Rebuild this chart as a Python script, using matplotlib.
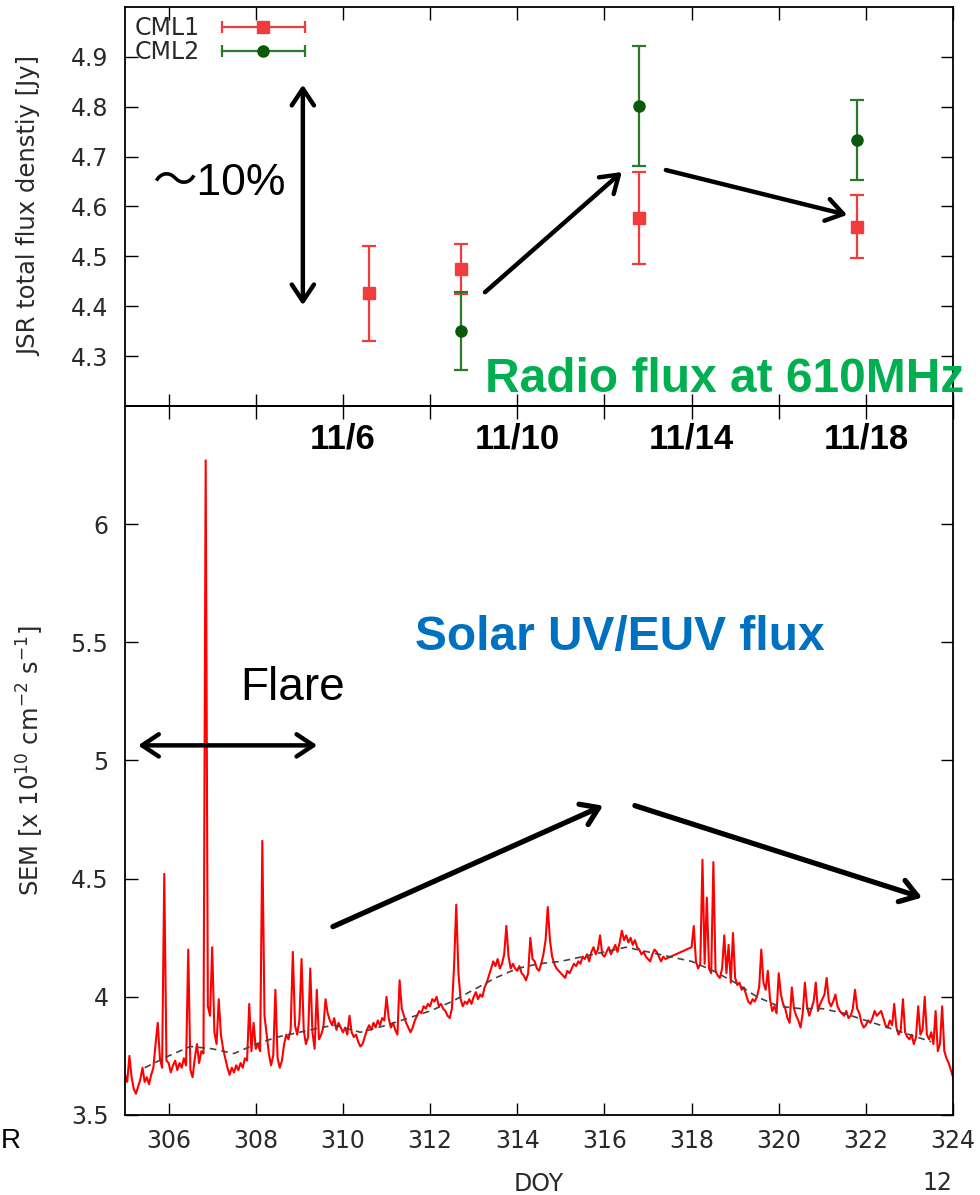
import matplotlib
matplotlib.use("Agg")
import numpy as np
import matplotlib.pyplot as plt
from matplotlib.lines import Line2D
from matplotlib.legend_handler import HandlerLine2D

plt.rcParams["font.family"] = ["DejaVu Sans"]
plt.rcParams["mathtext.fontset"] = "dejavusans"

# ---- radio flux (top panel) ----
cml1_doy = [310.6, 312.7, 316.8, 321.8]
cml1_flux = [4.426, 4.474, 4.577, 4.559]
cml1_err = [0.095, 0.050, 0.093, 0.063]

cml2_doy = [312.7, 316.8, 321.8]
cml2_flux = [4.350, 4.802, 4.733]
cml2_err = [0.078, 0.120, 0.080]

top_ticks = [306, 308, 310, 312, 314, 316, 318, 320, 322, 324]
top_tick_labels = ["", "", "11/6", "", "11/10", "", "11/14", "", "11/18", ""]
top_yticks = [4.3, 4.4, 4.5, 4.6, 4.7, 4.8, 4.9]

# ---- SEM flux (bottom panel), sampled every 0.05 day ----
# segment 1: DOY 305.00 - 317.40
sem_flux1 = [
    3.67, 3.64, 3.75, 3.66, 3.61, 3.59, 3.62, 3.65, 3.70, 3.64, 3.66, 3.63, 3.67, 3.70, 3.80, 3.89, 3.74, 3.70, 4.52, 3.73,  # 305
    3.72, 3.68, 3.71, 3.73, 3.69, 3.72, 3.70, 3.74, 3.71, 4.20, 3.69, 3.66, 3.74, 3.80, 3.72, 3.77, 3.76, 6.27, 3.96, 3.92,  # 306
    4.21, 3.85, 3.80, 3.99, 3.84, 3.78, 3.74, 3.70, 3.67, 3.70, 3.68, 3.71, 3.69, 3.72, 3.70, 3.74, 3.73, 3.97, 3.77, 3.89,  # 307
    3.78, 3.80, 3.77, 4.66, 3.92, 3.84, 3.76, 3.71, 3.75, 4.03, 3.74, 3.70, 3.73, 3.80, 3.84, 3.82, 3.86, 4.19, 3.88, 3.84,  # 308
    3.90, 4.16, 3.86, 3.80, 3.83, 4.12, 3.85, 3.78, 4.03, 3.82, 3.84, 3.87, 3.99, 3.93, 3.90, 3.88, 3.91, 3.86, 3.89, 3.87,  # 309
    3.85, 3.87, 3.84, 3.92, 3.85, 3.83, 3.84, 3.81, 3.79, 3.80, 3.83, 3.86, 3.88, 3.86, 3.89, 3.87, 3.90, 3.88, 3.91, 3.90,  # 310
    4.00, 3.91, 3.87, 3.89, 3.86, 3.84, 4.07, 3.95, 3.92, 3.89, 3.87, 3.85, 3.87, 3.90, 3.92, 3.94, 3.93, 3.96, 3.95, 3.97,  # 311
    3.96, 3.99, 3.98, 4.00, 3.96, 3.97, 3.95, 3.94, 3.92, 3.91, 3.95, 4.13, 4.39, 4.10, 3.99, 3.96, 3.98, 3.97, 3.99, 3.97,  # 312
    4.00, 4.02, 3.99, 4.01, 4.00, 4.04, 4.06, 4.09, 4.12, 4.15, 4.13, 4.16, 4.12, 4.14, 4.18, 4.30, 4.17, 4.12, 4.14, 4.12,  # 313
    4.11, 4.13, 4.10, 4.09, 4.07, 4.10, 4.25, 4.16, 4.15, 4.12, 4.11, 4.14, 4.18, 4.24, 4.38, 4.24, 4.17, 4.14, 4.12, 4.11,  # 314
    4.10, 4.09, 4.08, 4.11, 4.10, 4.12, 4.14, 4.13, 4.15, 4.14, 4.17, 4.16, 4.18, 4.15, 4.19, 4.21, 4.18, 4.20, 4.26, 4.18,  # 315
    4.17, 4.19, 4.21, 4.18, 4.20, 4.22, 4.19, 4.23, 4.28, 4.24, 4.26, 4.23, 4.25, 4.22, 4.24, 4.21, 4.20, 4.18, 4.19, 4.17,  # 316
    4.16, 4.15, 4.18, 4.20, 4.19, 4.17, 4.15, 4.17, 4.16,  # 317
]
# segment 2: DOY 318.00 - 324.00
sem_flux2 = [
    4.21, 4.30, 4.15, 4.12, 4.14, 4.58, 4.14, 4.42, 4.12, 4.10, 4.57, 4.11, 4.09, 4.08, 4.12, 4.26, 4.10, 4.22, 4.06, 4.27,  # 318
    4.08, 4.05, 4.06, 4.03, 4.04, 4.01, 3.98, 3.97, 3.99, 3.98, 4.00, 4.04, 4.20, 4.06, 4.03, 4.11, 3.99, 3.94, 3.96, 3.93,  # 319
    4.10, 4.01, 3.97, 3.95, 3.91, 3.89, 4.04, 3.95, 3.92, 3.90, 3.87, 3.93, 4.06, 3.96, 3.92, 3.95, 3.98, 4.06, 3.94, 3.97,  # 320
    3.99, 4.01, 4.08, 3.98, 3.96, 3.98, 4.01, 3.96, 3.94, 3.93, 3.92, 3.94, 3.91, 3.92, 3.95, 4.03, 3.95, 3.93, 3.89, 3.87,  # 321
    3.88, 3.90, 3.89, 3.91, 3.94, 3.92, 3.93, 3.94, 3.91, 3.88, 3.87, 3.90, 3.88, 3.97, 3.87, 3.84, 3.86, 3.99, 3.85, 3.83,  # 322
    3.82, 3.84, 3.80, 3.83, 3.96, 3.84, 3.86, 4.00, 3.84, 3.82, 3.85, 3.80, 3.94, 3.77, 3.80, 3.96, 3.77, 3.74, 3.72, 3.69,  # 323
    3.66,
]
seg1_start, seg2_start, step = 305.0, 318.0, 0.05

# smoothed trend (dashed)
trend_doy = [305.45, 306.0, 306.5, 307.0, 307.5, 308.0, 308.5, 309.0, 309.5, 309.8,
             310.4, 311.0, 311.5, 312.0, 312.5, 313.0, 313.5, 314.0, 314.5, 315.0,
             315.5, 316.0, 316.5, 317.0, 317.5, 318.0, 318.5, 319.0, 319.5, 320.0,
             320.5, 321.0, 321.5, 322.0, 322.5, 323.0, 323.5]
trend_flux = [3.70, 3.75, 3.79, 3.78, 3.76, 3.80, 3.83, 3.85, 3.87, 3.88,
              3.85, 3.88, 3.91, 3.94, 3.98, 4.03, 4.08, 4.12, 4.14, 4.15,
              4.17, 4.19, 4.21, 4.19, 4.17, 4.15, 4.11, 4.06, 4.00, 3.96,
              3.95, 3.95, 3.93, 3.90, 3.87, 3.84, 3.81]

bottom_ticks = [306, 308, 310, 312, 314, 316, 318, 320, 322, 324]
bottom_yticks = [3.5, 4.0, 4.5, 5.0, 5.5, 6.0]
bottom_ytick_labels = ["3.5", "4", "4.5", "5", "5.5", "6"]

doy1 = seg1_start + step * np.arange(len(sem_flux1))
doy2 = seg2_start + step * np.arange(len(sem_flux2))
sem_doy = np.concatenate([doy1, doy2])
sem_flux = np.concatenate([sem_flux1, sem_flux2])

RED = "#f03c3c"
GREEN = "#2a7a2a"
GREEN_DK = "#0b5a0b"
TICK_COL = "#2a2a2a"
SLIDE = ["Liberation Sans", "Noto Sans CJK JP"]  # overlay text font

fig = plt.figure(figsize=(9.8, 11.95), dpi=100)
ax1 = fig.add_axes([0.1276, 0.6603, 0.8449, 0.3339])
ax2 = fig.add_axes([0.1276, 0.06695, 0.8449, 0.5933])
ax1.set_zorder(2)
ax1.patch.set_alpha(0)

for ax in (ax1, ax2):
    for sp in ax.spines.values():
        sp.set_linewidth(1.3)
    ax.tick_params(direction="in", length=9, width=1.0, top=True, right=True,
                   labelsize=17, labelcolor=TICK_COL)
    ax.tick_params(axis="y", pad=12)
    ax.set_xlim(305, 324)

# ---- top panel ----
ax1.errorbar(cml1_doy, cml1_flux, yerr=cml1_err, fmt="s", color=RED, ms=8,
             elinewidth=1.6, capsize=4.7, capthick=1.6, zorder=3)
ax1.errorbar(cml2_doy, cml2_flux, yerr=cml2_err, fmt="o", color=GREEN, mfc=GREEN_DK,
             mec=GREEN_DK, ms=8, elinewidth=1.6, capsize=4.7, capthick=1.6, zorder=3)
ax1.set_ylim(4.2, 5.0)
ax1.set_yticks(top_yticks)
ax1.set_yticklabels([f"{v:.1f}" for v in top_yticks])
ax1.set_xticks(top_ticks)
ax1.set_xticklabels(top_tick_labels, fontsize=25, fontweight="bold", color="black",
                    family=SLIDE)
ax1.tick_params(axis="x", pad=12)
ax1.set_ylabel("JSR total flux denstiy [Jy]", fontsize=17.5, color=TICK_COL)
ax1.yaxis.set_label_coords(-0.101, 0.5)

# legend in gnuplot style: text first, then a horizontal bar with caps
caps1 = Line2D([], [], color=RED, lw=1.6, marker="|", ms=9, mew=1.6)
mk1 = Line2D([], [], color=RED, marker="s", ms=8, ls="none")
caps2 = Line2D([], [], color=GREEN, lw=1.6, marker="|", ms=9, mew=1.6)
mk2 = Line2D([], [], color=GREEN_DK, marker="o", ms=8, ls="none")
hmap = {caps1: HandlerLine2D(marker_pad=0, numpoints=2),
        caps2: HandlerLine2D(marker_pad=0, numpoints=2),
        mk1: HandlerLine2D(numpoints=1),
        mk2: HandlerLine2D(numpoints=1)}
ax1.legend([(caps1, mk1), (caps2, mk2)], ["CML1", "CML2"], handler_map=hmap,
           loc="upper left", bbox_to_anchor=(0, 1), borderaxespad=0, borderpad=0.4,
           frameon=False, markerfirst=False, handlelength=3.5, handletextpad=0.95,
           labelspacing=0.0, fontsize=17, labelcolor=TICK_COL)

arrow_top = dict(arrowstyle="->,head_length=0.6,head_width=0.4", lw=3.2, color="black",
                 shrinkA=0, shrinkB=0, mutation_scale=20)
ax1.annotate("", xy=(309.08, 4.844), xytext=(309.08, 4.402),
             arrowprops=dict(arrow_top, arrowstyle="<->,head_length=0.6,head_width=0.4"))
ax1.annotate("", xy=(316.40, 4.669), xytext=(313.26, 4.428), arrowprops=arrow_top)
ax1.annotate("", xy=(321.57, 4.583), xytext=(317.41, 4.673), arrowprops=arrow_top)
ax1.text(305.62, 4.623, "\uff5e10%", fontsize=32, va="baseline", family=SLIDE)

# ---- bottom panel ----
ax2.plot(sem_doy, sem_flux, color="#ff0000", lw=1.5, zorder=2)
ax2.plot(trend_doy, trend_flux, color="#444444", lw=1.2, ls=(0, (4, 3)), zorder=3)
ax2.set_ylim(3.5, 6.5)
ax2.set_yticks(bottom_yticks)
ax2.set_yticklabels(bottom_ytick_labels)
ax2.set_xticks(bottom_ticks)
ax2.set_xticklabels([str(t) for t in bottom_ticks])
ax2.tick_params(axis="x", pad=10)
ax2.set_xlabel("DOY", fontsize=17, color=TICK_COL, labelpad=14)
ax2.set_ylabel("SEM [x 10$^{10}$ cm$^{-2}$ s$^{-1}$]", fontsize=17.5, color=TICK_COL)
ax2.yaxis.set_label_coords(-0.096, 0.5)

arrow_bot = dict(arrowstyle="->,head_length=0.6,head_width=0.4", lw=3.8, color="black",
                 shrinkA=0, shrinkB=0, mutation_scale=20)
ax2.annotate("", xy=(309.41, 5.064), xytext=(305.30, 5.064),
             arrowprops=dict(arrow_bot, lw=3.2, arrowstyle="<->,head_length=0.6,head_width=0.4"))
ax2.annotate("", xy=(315.97, 4.809), xytext=(309.77, 4.297), arrowprops=arrow_bot)
ax2.annotate("", xy=(323.29, 4.420), xytext=(316.70, 4.809), arrowprops=arrow_bot)
ax2.text(307.64, 5.254, "Flare", fontsize=33, va="baseline", family=SLIDE)
ax2.text(311.65, 5.466, "Solar UV/EUV flux", fontsize=34.5, fontweight="bold",
         color="#0070c0", va="baseline", family=SLIDE)

fig.text(0.4949, 0.6720, "Radio flux at 610MHz", fontsize=34.5, fontweight="bold",
         color="#00b050", va="baseline", family=SLIDE)
fig.text(937 / 980, 1 - 1183 / 1195, "12", fontsize=17, color=TICK_COL,
         ha="center", va="center")
fig.text(1 / 980, 1 - 1141 / 1195, "R", fontsize=20, ha="left", va="center", family=SLIDE)

fig.savefig("out.png", dpi=100)
